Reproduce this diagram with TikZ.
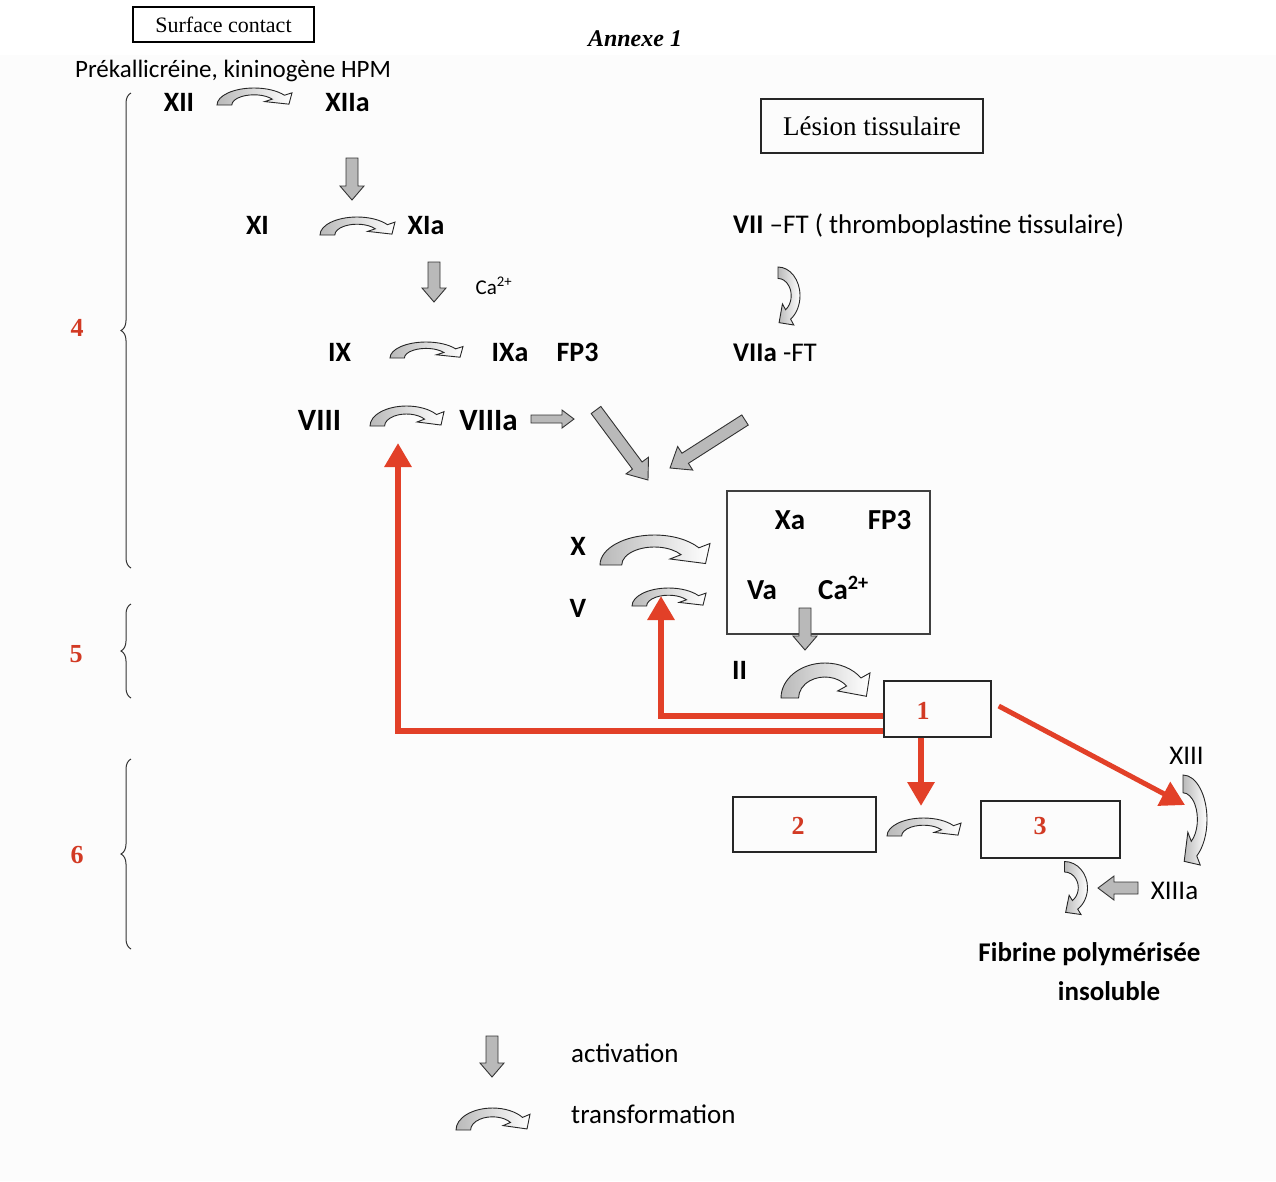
\documentclass[tikz,border=0pt]{standalone}
\usepackage{fontspec}
\setmainfont{Liberation Serif}
\newfontfamily\calib{Carlito}
\usetikzlibrary{arrows.meta,decorations.pathreplacing}
\definecolor{redarr}{RGB}{226,64,40}
\definecolor{rednum}{RGB}{210,58,36}
\newcommand{\fs}[1]{\fontsize{#1}{#1}\selectfont}
\tikzset{
  transf/.pic={\path[draw=black!85,line width=0.9pt,left color=gray!55,right color=white]
    (-1.012,-0.5) arc[start angle=180,end angle=35,radius=1] -- (1.012,0.217) -- (0.930,-0.451)
    -- (0.275,-0.299) -- (0.479,-0.156) arc[start angle=35,end angle=180,radius=0.6] -- cycle;},
  blockstyle/.style={draw=black!80,line width=0.9pt,fill=gray!55},
  lab/.style={font=\calib\bfseries\fs{28},inner sep=0pt,anchor=base},
  labbig/.style={font=\calib\bfseries\fs{31},inner sep=0pt,anchor=base},
  reg/.style={font=\calib\fs{27},inner sep=0pt,anchor=base},
  tbox/.style={draw=black!85,line width=1.4pt,inner sep=0pt},
  numlab/.style={font=\bfseries\fs{26},text=rednum,inner sep=0pt,anchor=base},
  redline/.style={draw=redarr,line width=6pt,-{Triangle[width=26pt,length=24pt]}},
  bracestyle/.style={draw=black!80,line width=1pt,decorate,decoration={brace,amplitude=10pt}}
}
\newcommand{\tr}[5]{\pic[shift={(#1,#2)},rotate=#5,xscale=#3/2.024,yscale=#4] {transf};}
\newcommand{\blk}[7]{%
  \pgfmathsetmacro{\blkang}{atan2((#4)-(#2),(#3)-(#1))}%
  \pgfmathsetmacro{\blklen}{veclen((#3)-(#1),(#4)-(#2))}%
  \begin{scope}[shift={(#1,#2)},rotate=\blkang]
    \path[blockstyle] (0,-#5) -- (\blklen-#7,-#5) -- (\blklen-#7,-#6) -- (\blklen,0)
      -- (\blklen-#7,#6) -- (\blklen-#7,#5) -- (0,#5) -- cycle;
  \end{scope}}
\begin{document}
\begin{tikzpicture}[x=1pt,y=1pt]
\useasboundingbox (0,0) rectangle (1276,-1181);
\fill[black!1] (0,-55) rectangle (1276,-1181);

% title and boxes
\node[draw=black,line width=2pt,minimum width=181,minimum height=35,inner sep=0pt,font=\fs{22}] (surf) at (223.5,-24.5) {Surface contact};
\node[font=\bfseries\itshape\fs{24},inner sep=0pt,anchor=base] (annexe) at (635,-46) {Annexe 1};
\node[tbox,minimum width=222,minimum height=54,font=\fs{27}] (lesion) at (872,-126) {Lésion tissulaire};

\node[font=\calib\fs{25},inner sep=0pt,anchor=base] (prek) at (233,-77) {Prékallicréine, kininogène HPM};

% intrinsic pathway
\node[lab] (xii) at (179,-111) {XII};
\node[lab] (xiia) at (347.5,-111) {XIIa};
\tr{254.5}{-96.5}{75}{17}{0}
\blk{352}{-158}{352}{-200}{6}{12}{14}
\node[lab] (xi) at (257.5,-234) {XI};
\node[lab] (xia) at (426,-234) {XIa};
\tr{357.5}{-226}{75}{18}{0}
\blk{434}{-262}{434}{-302}{6}{12}{14}
\node[font=\calib\fs{21},inner sep=0pt,anchor=base] (ca1) at (494,-294) {Ca\textsuperscript{2+}};
\node[lab] (ix) at (339.5,-361) {IX};
\tr{426.5}{-350}{73}{16}{0}
\node[lab] (ixa) at (510,-361) {IXa};
\node[lab] (fp3a) at (577.5,-361) {FP3};
\node[labbig] (viii) at (319.5,-430) {VIII};
\tr{407}{-416}{74}{20}{0}
\node[labbig] (viiia) at (488.5,-430) {VIIIa};
\blk{531}{-419}{574}{-419}{4}{9}{12}

% extrinsic pathway
\node[reg,anchor=base west] (vii) at (733,-233) {\bfseries VII\mdseries{} –FT ( thromboplastine tissulaire)};
\tr{789}{-296}{58}{22}{-90}
\node[reg,anchor=base west] (viia) at (733,-361) {\bfseries VIIa\mdseries{} -FT};

% convergence
\blk{596}{-410}{648}{-480}{6}{14}{18}
\blk{745}{-420}{670}{-468}{6}{14}{18}

% prothrombinase
\node[draw=black!75,line width=1.3pt,minimum width=203,minimum height=143,inner sep=0pt] (pro) at (828.5,-562.5) {};
\node[lab,font=\calib\bfseries\fs{29}] (xa) at (790,-529) {Xa};
\node[lab,font=\calib\bfseries\fs{29}] (fp3b) at (889.5,-529) {FP3};
\node[lab,font=\calib\bfseries\fs{29}] (va) at (762,-599) {Va};
\node[lab,font=\calib\bfseries\fs{29}] (ca2) at (843.5,-599) {Ca\textsuperscript{2+}};
\node[lab] (x) at (578,-555) {X};
\tr{655}{-550}{110}{30}{0}
\node[lab] (v) at (578,-617) {V};
\tr{669}{-597}{74}{18}{0}
\blk{805}{-608}{805}{-650}{6}{12}{14}
\node[lab] (ii) at (739.5,-679) {II};
\tr{825.5}{-680.5}{89}{35}{0}

% numbered boxes
\node[tbox,minimum width=107,minimum height=56] (b1) at (937.5,-709) {};
\node[numlab] at (923,-719) {1};
\node[tbox,minimum width=143,minimum height=55] (b2) at (804.5,-824.5) {};
\node[numlab] at (798,-834) {2};
\tr{924}{-827}{74}{18}{0}
\node[tbox,minimum width=139,minimum height=57] (b3) at (1050.5,-829.5) {};
\node[numlab] at (1040,-834) {3};

% red feedback connectors
\coordinate (tV) at (661,-596);
\coordinate (tVIII) at (398,-443);
\coordinate (tB2) at (921,-806);
\coordinate (tXIII) at (1185,-805);
\draw[redline] ([yshift=-7]b1.west) -| (tV);
\draw[redline] ([yshift=-22]b1.west) -| (tVIII);
\draw[redline] ([xshift=-16.5]b1.south) -- (tB2);
\draw[redline,line width=5pt] ([xshift=7,yshift=3]b1.east) -- (tXIII);

% factor XIII
\node[reg] (xiii) at (1186.5,-764) {XIII};
\tr{1195}{-820}{90}{24}{-90}
\node[reg] (xiiia) at (1174.5,-899) {XIIIa};
\blk{1138}{-888}{1098}{-888}{6}{12}{16}
\tr{1076}{-888}{53}{23}{-90}
\node[lab,font=\calib\bfseries\fs{27}] (fib) at (1089.5,-961) {Fibrine polymérisée};
\node[lab,font=\calib\bfseries\fs{27}] (ins) at (1109,-1000) {insoluble};

% braces
\draw[bracestyle] (131,-568) -- (131,-93);
\node[numlab] (n4) at (77,-336) {4};
\draw[bracestyle] (131,-698) -- (131,-604);
\node[numlab] (n5) at (76,-662) {5};
\draw[bracestyle] (131,-949) -- (131,-759);
\node[numlab] (n6) at (77,-863) {6};

% legend
\blk{492}{-1036}{492}{-1077}{6}{12}{14}
\node[reg,anchor=base west] (lact) at (571,-1062) {activation};
\tr{493}{-1119}{74}{22}{0}
\node[reg,anchor=base west] (ltr) at (571,-1123) {transformation};
\end{tikzpicture}
\end{document}
